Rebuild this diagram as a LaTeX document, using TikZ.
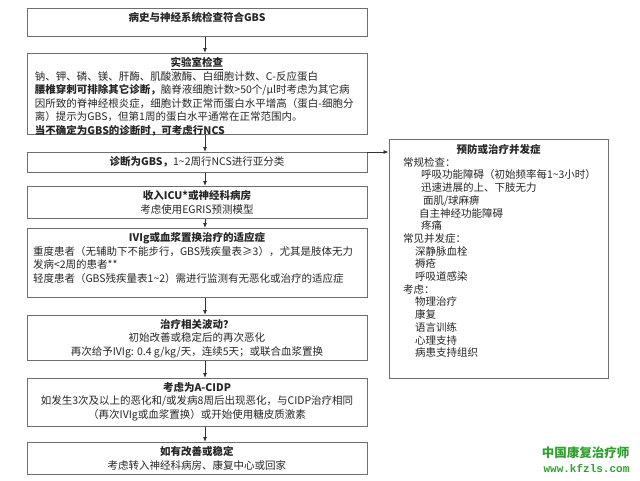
\documentclass[tikz,border=0pt]{standalone}
\usepackage{fontspec}
\setmainfont{Noto Sans CJK SC}
\newfontfamily\wwwfont{Liberation Mono}
\usepackage{tikz}
\usetikzlibrary{arrows.meta}
\definecolor{boxgray}{RGB}{110,110,110}
\definecolor{markgreen}{RGB}{46,160,46}
% top aligned text block of a given height
\newcommand{\boxbody}[2]{\parbox[c][#1][t]{340pt}{\vspace*{4pt}#2}}

\begin{document}
\begin{tikzpicture}[x=1pt,y=-1pt,
    box/.style={draw=boxgray,line width=0.9pt,anchor=north,inner sep=0pt,
      font=\fontsize{10.5}{13.5}\selectfont,text=black!85},
    arr/.style={draw=black!80,line width=0.8pt,-{Latex[length=5pt,width=4pt]}},
    wmark/.style={text=markgreen,inner sep=0pt}]
\useasboundingbox (0,0) rectangle (640,480);
% main column
\node[box] (hist) at (197,8) {\boxbody{28pt}{\centering\textbf{病史与神经系统检查符合GBS}}};
\node[box] (lab) at (197,53) {\boxbody{81pt}{{\centering\textbf{\underline{实验室检查}}\par}\raggedright\leftskip=8pt
  钠、钾、磷、镁、肝酶、肌酸激酶、白细胞计数、C-反应蛋白\\
  \textbf{腰椎穿刺可排除其它诊断，}脑脊液细胞计数>50个/µl时考虑为其它病\\
  因所致的脊神经根炎症，细胞计数正常而蛋白水平增高（蛋白-细胞分\\
  离）提示为GBS，但第1周的蛋白水平通常在正常范围内。\\
  \textbf{当不确定为GBS的诊断时，可考虑行NCS}}};
\node[box] (diag) at (197,152) {\boxbody{20pt}{\centering\textbf{诊断为GBS，}1\textasciitilde2周行NCS进行亚分类}};
\node[box] (icu) at (197,186) {\boxbody{32pt}{\centering\textbf{收入ICU*或神经科病房}\\考虑使用EGRIS预测模型}};
\node[box] (ivig) at (197,228) {\boxbody{69pt}{{\centering\textbf{IVIg或血浆置换治疗的适应症}\par}\raggedright\leftskip=6pt
  重度患者（无辅助下不能步行，GBS残疾量表≥3），尤其是肢体无力\\
  发病<2周的患者**\\
  轻度患者（GBS残疾量表1\textasciitilde2）需进行监测有无恶化或治疗的适应症}};
\node[box] (fluct) at (197,315) {\boxbody{45pt}{\centering\textbf{治疗相关波动？}\\初始改善或稳定后的再次恶化\\
  再次给予IVIg: 0.4 g/kg/天，连续5天；或联合血浆置换}};
\node[box] (acidp) at (197,378) {\boxbody{48pt}{\centering\textbf{考虑为A-CIDP}\\
  如发生3次及以上的恶化和/或发病8周后出现恶化，与CIDP治疗相同\\
  （再次IVIg或血浆置换）或开始使用糖皮质激素}};
\node[box] (home) at (197,442) {\boxbody{32pt}{\centering\textbf{如有改善或稳定}\\考虑转入神经科病房、康复中心或回家}};
% complications
\node[box,font=\fontsize{10.5}{12.7}\selectfont] (comp) at (498.5,139) {\parbox[c][239pt][t]{219pt}{\vspace*{5pt}%
  {\centering\textbf{预防或治疗并发症}\par}\raggedright\leftskip=14pt
  常规检查：\\
  \hspace*{18pt}呼吸功能障碍（初始频率每1\textasciitilde3小时）\\
  \hspace*{18pt}迅速进展的上、下肢无力\\
  \hspace*{20pt}面肌/球麻痹\\
  \hspace*{16pt}自主神经功能障碍\\
  \hspace*{18pt}疼痛\\
  常见并发症：\\
  \hspace*{12pt}深静脉血栓\\
  \hspace*{12pt}褥疮\\
  \hspace*{12pt}呼吸道感染\\
  考虑：\\
  \hspace*{12pt}物理治疗\\
  \hspace*{12pt}康复\\
  \hspace*{12pt}语言训练\\
  \hspace*{12pt}心理支持\\
  \hspace*{12pt}病患支持组织}};
% arrows
\draw[arr] ([xshift=8pt]hist.south) -- ([xshift=8pt]lab.north);
\draw[arr] ([xshift=8pt]lab.south) -- ([xshift=8pt]diag.north);
\draw[arr] ([xshift=8pt]diag.south) -- ([xshift=8pt]icu.north);
\draw[arr] ([xshift=8pt]icu.south) -- ([xshift=8pt]ivig.north);
\draw[arr] ([xshift=8pt]ivig.south) -- ([xshift=8pt]fluct.north);
\draw[arr] ([xshift=8pt]fluct.south) -- ([xshift=8pt]acidp.north);
\draw[arr] ([xshift=8pt]acidp.south) -- ([xshift=8pt]home.north);
\draw[arr] (diag.north east) -- (diag.north east -| comp.west);
% watermark
\node[wmark,font=\bfseries\fontsize{12.5}{14}\selectfont] (wmcn) at (585.5,453) {中国康复治疗师};
\node[wmark,font=\wwwfont\bfseries\fontsize{11}{12}\selectfont] (wmurl) at (586.5,468) {www.kfzls.com};
\end{tikzpicture}
\end{document}
